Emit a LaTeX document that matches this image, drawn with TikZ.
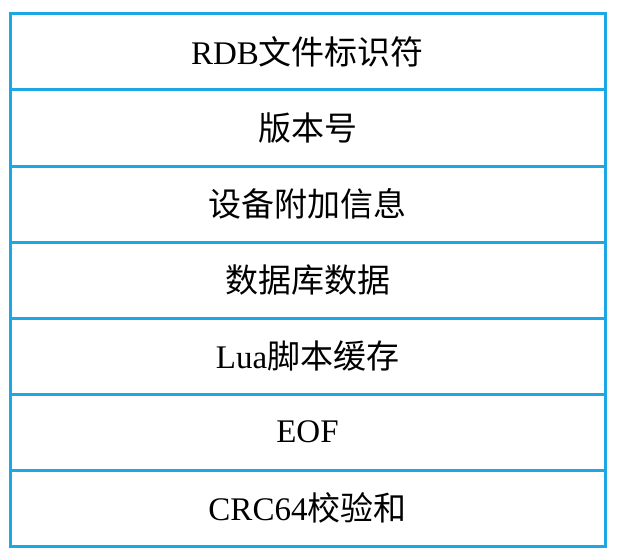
\documentclass[tikz,border=0pt]{standalone}
\usepackage{fontspec}
\setmainfont{Liberation Serif}
\newfontfamily\cjk{Noto Sans CJK SC}
\usetikzlibrary{positioning}
\definecolor{rdbblue}{RGB}{27,168,228}
\begin{document}
\begin{tikzpicture}[x=1pt,y=1pt]
        \tikzstyle{field} = [rectangle, minimum width=595pt, minimum height=76pt, inner sep=0pt, outer sep=0pt, text centered, draw=rdbblue, line width=3pt, font=\fontsize{33}{37}\selectfont]

        \useasboundingbox (0,0) rectangle (621,-559);

        \node (magic) [field] at (307.5,-52) {RDB{\cjk 文件标识符}};
        \node (version) [field, below=0pt of magic] {\cjk 版本号};
        \node (aux) [field, below=0pt of version] {\cjk 设备附加信息};
        \node (db) [field, below=0pt of aux] {\cjk 数据库数据};
        \node (lua) [field, below=0pt of db] {Lua{\cjk 脚本缓存}};
        \node (eof) [field, below=0pt of lua] {EOF};
        \node (crc) [field, below=0pt of eof] {CRC64{\cjk 校验和}};
    \end{tikzpicture}
\end{document}
